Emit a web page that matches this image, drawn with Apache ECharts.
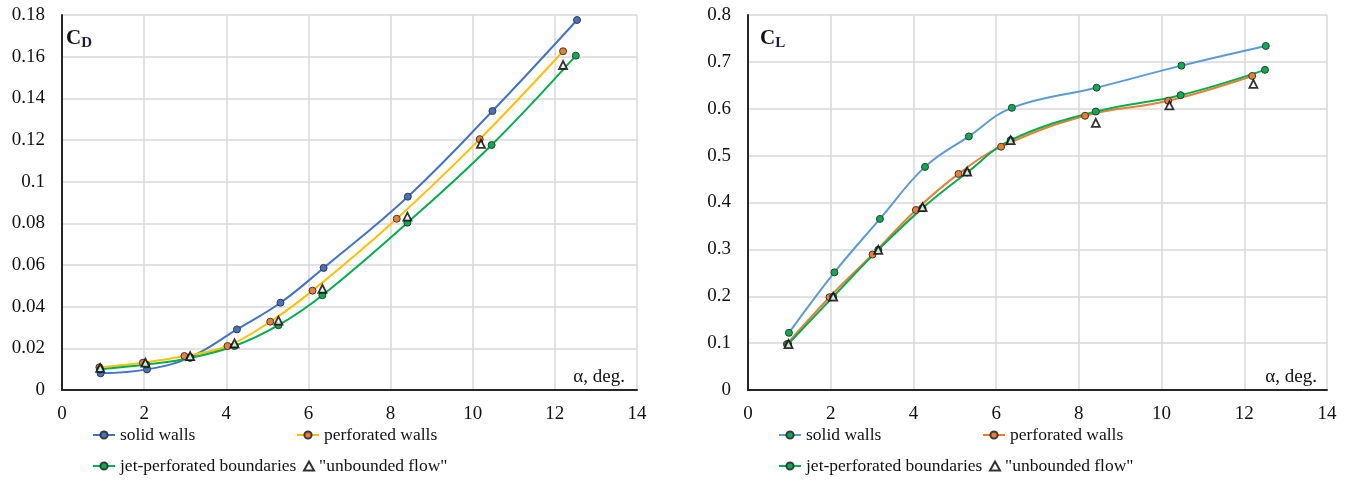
<!DOCTYPE html>
<html>
<head>
<meta charset="utf-8">
<script src="https://cdn.jsdelivr.net/npm/echarts@6/dist/echarts.min.js"></script>
<style>html,body{margin:0;padding:0;background:#fff}#c{width:1355px;height:482px}</style>
</head>
<body>
<div id="c"></div>
<script>
// ---- Data: drag coefficient C_D vs angle of attack ----
const cdSolidX = [0.94, 2.07, 3.12, 4.26, 5.32, 6.37, 8.42, 10.48, 12.54];
const cdSolidY = [0.0080, 0.0099, 0.0157, 0.0291, 0.0419, 0.0586, 0.0928, 0.1339, 0.1776];
const cdPerfX = [0.91, 1.97, 2.98, 4.03, 5.07, 6.10, 8.15, 10.17, 12.20];
const cdPerfY = [0.0109, 0.0131, 0.0163, 0.0211, 0.0328, 0.0477, 0.0822, 0.1204, 0.1626];
const cdJetX = [0.93, 2.05, 3.12, 4.20, 5.27, 6.34, 8.41, 10.46, 12.51];
const cdJetY = [0.0099, 0.0122, 0.0154, 0.0211, 0.0311, 0.0455, 0.0803, 0.1176, 0.1605];
const cdUnbX = [0.93, 2.03, 3.12, 4.20, 5.27, 6.34, 8.41, 10.20, 12.20];
const cdUnbY = [0.0106, 0.0131, 0.0163, 0.0224, 0.0333, 0.0486, 0.0832, 0.1181, 0.1560];

// ---- Data: lift coefficient C_L vs angle of attack ----
const clSolidX = [0.99, 2.09, 3.19, 4.28, 5.34, 6.38, 8.43, 10.48, 12.52];
const clSolidY = [0.122, 0.251, 0.365, 0.476, 0.541, 0.602, 0.645, 0.692, 0.734];
const clPerfX = [0.94, 1.97, 3.01, 4.06, 5.09, 6.12, 8.15, 10.16, 12.19];
const clPerfY = [0.098, 0.198, 0.289, 0.384, 0.461, 0.519, 0.585, 0.617, 0.670];
const clJetX = [0.97, 2.06, 3.15, 4.22, 5.30, 6.35, 8.41, 10.46, 12.50];
const clJetY = [0.098, 0.199, 0.299, 0.388, 0.464, 0.533, 0.594, 0.629, 0.683];
const clUnbX = [0.98, 2.06, 3.15, 4.22, 5.30, 6.35, 8.41, 10.19, 12.22];
const clUnbY = [0.098, 0.199, 0.299, 0.390, 0.466, 0.533, 0.570, 0.607, 0.653];

const seriesNames = ['solid walls', 'perforated walls', 'jet-perforated boundaries', '"unbounded flow"'];
const xLabelText = 'α, deg.';

function zip(xs, ys) { return xs.map((x, i) => [x, ys[i]]); }

const FONT = '"Liberation Serif", "Times New Roman", serif';

function lineSeries(id, name, idx, xs, ys, lineColor, markColor) {
  return {
    id: id, name: id + '|' + name, type: 'line', xAxisIndex: idx, yAxisIndex: idx,
    data: zip(xs, ys), smooth: 0.4, symbol: 'circle', symbolSize: 7,
    lineStyle: { color: lineColor, width: 2 },
    itemStyle: { color: markColor, borderColor: '#3a3a3a', borderWidth: 1 },
    z: 3
  };
}
function triSeries(id, name, idx, xs, ys) {
  return {
    id: id, name: id + '|' + name, type: 'scatter', xAxisIndex: idx, yAxisIndex: idx,
    data: zip(xs, ys), symbol: 'triangle', symbolSize: 8,
    itemStyle: { color: '#ffffff', borderColor: '#000000', borderWidth: 1.8 },
    z: 4
  };
}

function xAxisCfg(idx) {
  return {
    type: 'value', gridIndex: idx, min: 0, max: 14, interval: 2,
    axisLine: { show: true, onZero: false, lineStyle: { color: '#262626', width: 2 } },
    axisTick: { show: false },
    axisLabel: { fontFamily: FONT, fontSize: 19, color: '#111', margin: 15 },
    splitLine: { show: true, lineStyle: { color: '#d9d9d9', width: 1.5 } }
  };
}
function yAxisCfg(idx, max, interval) {
  return {
    type: 'value', gridIndex: idx, min: 0, max: max, interval: interval,
    axisLine: { show: true, onZero: false, lineStyle: { color: '#262626', width: 2 } },
    axisTick: { show: false },
    axisLabel: { fontFamily: FONT, fontSize: 19, color: '#111', margin: 17 },
    splitLine: { show: true, lineStyle: { color: '#d9d9d9', width: 1.5 } }
  };
}

function legendFor(sid, name, left, top, w) {
  return {
    data: [sid + '|' + name],
    left: left, top: top, itemWidth: w, itemHeight: 9, itemGap: 0, padding: 0,
    selectedMode: false,
    formatter: n => n.split('|')[1],
    textStyle: { fontFamily: FONT, fontSize: 17.5, color: '#111' }
  };
}

const chart = echarts.init(document.getElementById('c'), null, { renderer: 'canvas' });

const titleRich = {
  c: { fontFamily: FONT, fontSize: 21, color: '#111' },
  s: { fontFamily: FONT, fontSize: 15, fontWeight: 'bold', color: '#1b1b3a', padding: [10, 0, 0, 0] }
};

const option = {
  backgroundColor: '#ffffff',
  animation: false,
  grid: [
    { left: 62, top: 15, width: 575, height: 375 },
    { left: 748, top: 15, width: 579, height: 375 }
  ],
  xAxis: [xAxisCfg(0), xAxisCfg(1)],
  yAxis: [yAxisCfg(0, 0.18, 0.02), yAxisCfg(1, 0.8, 0.1)],
  title: [
    { text: '{c|C}{s|D}', left: 61, top: 21, textStyle: { rich: titleRich } },
    { text: '{c|C}{s|L}', left: 755, top: 21, textStyle: { rich: titleRich } },
    { text: xLabelText, right: 725, top: 363,
      textStyle: { fontFamily: FONT, fontSize: 19, fontWeight: 'normal', color: '#111' } },
    { text: xLabelText, right: 33, top: 363,
      textStyle: { fontFamily: FONT, fontSize: 19, fontWeight: 'normal', color: '#111' } }
  ],
  legend: [
    legendFor('a0', seriesNames[0], 92, 426, 22),
    legendFor('a1', seriesNames[1], 296, 426, 22),
    legendFor('a2', seriesNames[2], 92, 457, 22),
    legendFor('a3', seriesNames[3], 303, 457, 10),
    legendFor('b0', seriesNames[0], 778, 426, 22),
    legendFor('b1', seriesNames[1], 982, 426, 22),
    legendFor('b2', seriesNames[2], 778, 457, 22),
    legendFor('b3', seriesNames[3], 989, 457, 10)
  ],
  series: [
    lineSeries('a0', seriesNames[0], 0, cdSolidX, cdSolidY, '#4472c4', '#4472c4'),
    lineSeries('a1', seriesNames[1], 0, cdPerfX, cdPerfY, '#ffc000', '#ed7d31'),
    lineSeries('a2', seriesNames[2], 0, cdJetX, cdJetY, '#00b050', '#00b050'),
    triSeries('a3', seriesNames[3], 0, cdUnbX, cdUnbY),
    lineSeries('b0', seriesNames[0], 1, clSolidX, clSolidY, '#5b9bd5', '#00b050'),
    lineSeries('b1', seriesNames[1], 1, clPerfX, clPerfY, '#ed7d31', '#ed7d31'),
    lineSeries('b2', seriesNames[2], 1, clJetX, clJetY, '#00b050', '#00b050'),
    triSeries('b3', seriesNames[3], 1, clUnbX, clUnbY)
  ]
};
chart.setOption(option);
</script>
</body>
</html>
